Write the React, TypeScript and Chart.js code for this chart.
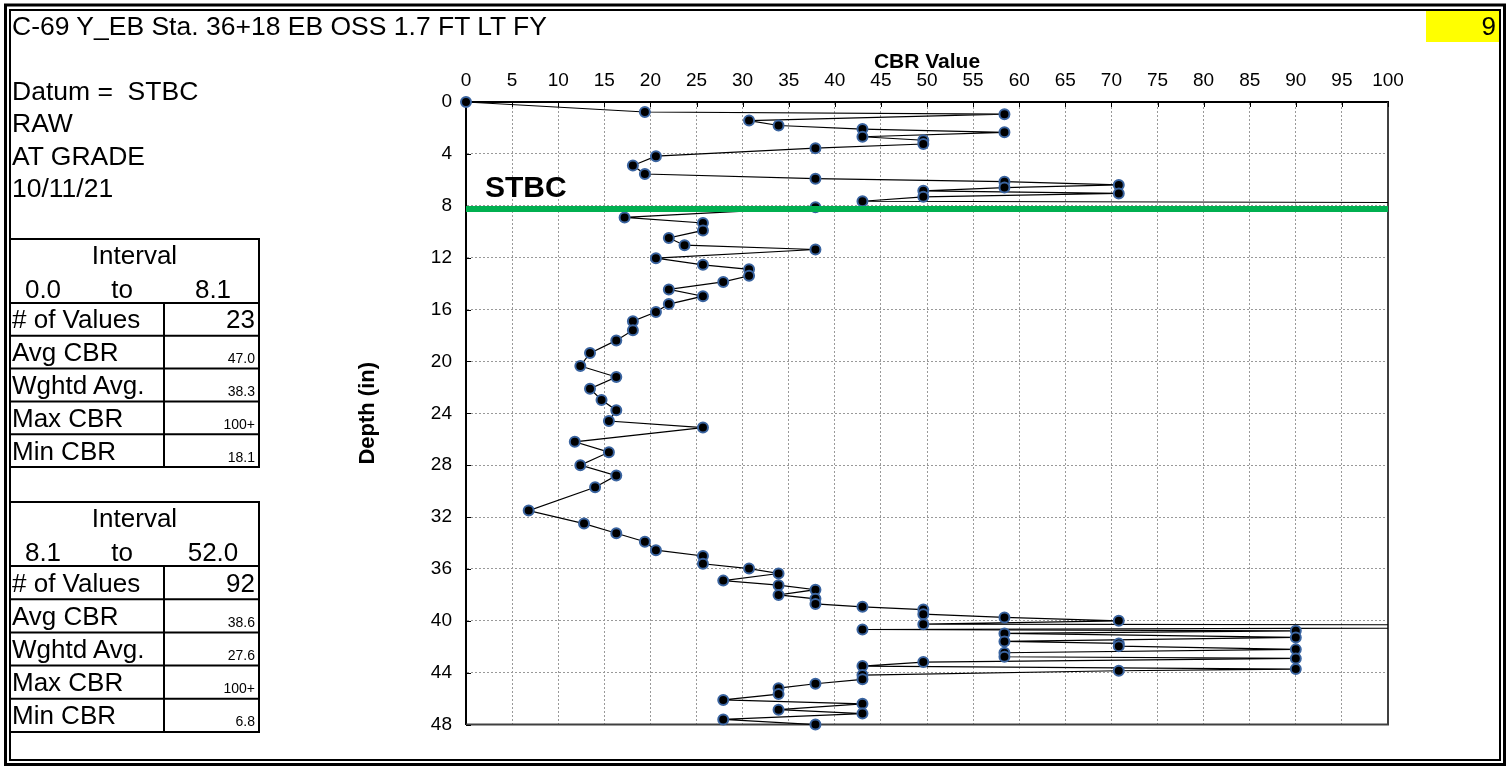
import React, { useEffect, useRef } from "react";
import { Chart, registerables } from "chart.js";

Chart.register(...registerables);

// ---- data ----
const depthIn = [
  0, 0.77, 0.94, 1.43, 1.81, 2.09, 2.34, 2.68, 2.95, 3.24, 3.56, 4.18, 4.9, 5.55, 5.91, 6.14, 6.39, 6.6, 6.85, 7.05,
  7.31, 7.65, 7.92, 8.12, 8.9, 9.33, 9.9, 10.48, 11.04, 11.37, 12.04, 12.55, 12.9, 13.4, 13.87, 14.45, 14.97, 15.58,
  16.19, 16.9, 17.6, 18.38, 19.36, 20.35, 21.2, 22.1, 22.97, 23.76, 24.6, 25.1, 26.2, 27.0, 28.0, 28.8, 29.7, 31.5,
  32.5, 33.25, 33.9, 34.55, 35.0, 35.6, 35.97, 36.35, 36.9, 37.25, 37.6, 38.0, 38.3, 38.7, 38.92, 39.13, 39.49, 39.74,
  40.0, 40.26, 40.38, 40.67, 40.77, 40.97, 41.28, 41.59, 41.74, 41.95, 42.2, 42.46, 42.77, 42.9, 43.18, 43.49, 43.72,
  43.85, 44.18, 44.51, 44.85, 45.19, 45.65, 46.1, 46.4, 46.85, 47.15, 47.6, 48.0,
];
const cbrValue = [
  0, 19.4, 58.4, 30.7, 33.9, 43.0, 58.4, 43.0, 49.6, 49.6, 37.9, 20.6, 18.1, 19.4, 37.9, 58.4, 70.8, 58.4, 49.6, 70.8,
  49.6, 43.0, 200, 37.9, 17.2, 25.7, 25.7, 22.0, 23.7, 37.9, 20.6, 25.7, 30.7, 30.7, 27.9, 22.0, 25.7, 22.0,
  20.6, 18.1, 18.1, 16.3, 13.45, 12.4, 16.3, 13.45, 14.7, 16.3, 15.5, 25.7, 11.8, 15.5, 12.4, 16.3, 14.0, 6.8,
  12.8, 16.3, 19.4, 20.6, 25.7, 25.7, 30.7, 33.9, 27.9, 33.9, 37.9, 33.9, 37.9, 37.9, 43.0, 49.6, 49.6, 58.4,
  70.8, 49.6, 200, 43.0, 90, 58.4, 90, 58.4, 70.8, 70.8, 90, 58.4, 58.4, 90, 49.6, 43.0, 90,
  70.8, 43.0, 43.0, 37.9, 33.9, 33.9, 27.9, 43.0, 33.9, 43.0, 27.9, 37.9,
];
const stbcDepth = 8.25;
const xMin = 0;
const xMax = 100;
const xStep = 5;
const yMin = 0;
const yMax = 48;
const yStep = 4;

const titleText = "C-69 Y_EB Sta. 36+18 EB OSS 1.7 FT LT FY";
const pageNumber = "9";
const infoLines = ["Datum =  STBC", "RAW", "AT GRADE", "10/11/21"];
const statLabels = ["# of Values", "Avg CBR", "Wghtd Avg.", "Max CBR", "Min CBR"];
const table1Range = ["0.0", "to", "8.1"];
const table1Values = ["23", "47.0", "38.3", "100+", "18.1"];
const table2Range = ["8.1", "to", "52.0"];
const table2Values = ["92", "38.6", "27.6", "100+", "6.8"];

const FONT = "Arial, 'Liberation Sans', sans-serif";

const framePlugin = {
  id: "frame",
  beforeDatasetsDraw(chart: any) {
    const { ctx, chartArea, scales } = chart;
    const { left, top, right, bottom } = chartArea;
    ctx.save();
    ctx.strokeStyle = "#404040";
    ctx.lineWidth = 2;
    ctx.beginPath();
    ctx.moveTo(right, top);
    ctx.lineTo(right, bottom);
    ctx.lineTo(left, bottom);
    ctx.stroke();
    ctx.strokeStyle = "#000";
    ctx.lineWidth = 1;
    ctx.beginPath();
    scales.x.ticks.forEach((t: any) => {
      const px = Math.round(scales.x.getPixelForValue(t.value)) + 0.5;
      ctx.moveTo(px, top);
      ctx.lineTo(px, top + 5);
    });
    scales.y.ticks.forEach((t: any) => {
      const py = Math.round(scales.y.getPixelForValue(t.value)) + 0.5;
      ctx.moveTo(left, py);
      ctx.lineTo(left + 5, py);
    });
    ctx.stroke();
    ctx.restore();
  },
};

function CbrChart() {
  const ref = useRef<HTMLCanvasElement | null>(null);
  useEffect(() => {
    if (!ref.current) return;
    Chart.defaults.font.family = FONT;
    const points = depthIn.map((d, i) => ({ x: cbrValue[i], y: d }));
    const chart = new Chart(ref.current, {
      type: "scatter",
      data: {
        datasets: [
          {
            label: "STBC",
            data: [
              { x: xMin, y: stbcDepth },
              { x: xMax, y: stbcDepth },
            ],
            showLine: true,
            borderColor: "#00B050",
            backgroundColor: "#00B050",
            borderWidth: 6,
            pointRadius: 0,
          },
          {
            label: "CBR",
            data: points,
            showLine: true,
            borderColor: "#000000",
            borderWidth: 1.2,
            pointRadius: 5,
            pointBorderWidth: 2,
            pointBackgroundColor: "#000000",
            pointBorderColor: "#3A64A0",
            clip: { left: 10, top: 10, right: 0, bottom: 10 },
          },
        ],
      },
      options: {
        responsive: false,
        animation: false,
        devicePixelRatio: 1,
        layout: { padding: { left: 0, top: 0, right: 42, bottom: 21 } },
        plugins: { legend: { display: false }, tooltip: { enabled: false } },
        scales: {
          x: {
            type: "linear",
            position: "top",
            min: xMin,
            max: xMax,
            ticks: { stepSize: xStep, color: "#000", font: { size: 19 }, padding: 10, maxRotation: 0, autoSkip: false },
            grid: { color: "#999999", lineWidth: 1, drawTicks: false },
            border: { display: true, color: "#000", width: 2, dash: [2, 2] },
            title: {
              display: true,
              text: "CBR Value",
              color: "#000",
              font: { size: 21, weight: "bold" },
              padding: { top: 10, bottom: 0 },
            },
            afterFit: (s: any) => {
              s.height = 62;
            },
          },
          y: {
            type: "linear",
            reverse: true,
            min: yMin,
            max: yMax,
            ticks: { stepSize: yStep, color: "#000", font: { size: 19 }, padding: 14, autoSkip: false },
            grid: { color: "#999999", lineWidth: 1, drawTicks: false },
            border: { display: true, color: "#000", width: 2, dash: [2, 2] },
            title: {
              display: true,
              text: "Depth (in)",
              color: "#000",
              font: { size: 22, weight: "bold" },
              padding: { top: 25, bottom: 0 },
            },
            afterFit: (s: any) => {
              s.width = 136;
            },
          },
        },
      },
      plugins: [framePlugin],
    } as any);
    return () => chart.destroy();
  }, []);
  return (
    <canvas
      ref={ref}
      width={1100}
      height={710}
      style={{ position: "absolute", left: 330, top: 40, width: 1100, height: 710 }}
    />
  );
}

function StatTable({
  top,
  headerH,
  rowH,
  range,
  values,
}: {
  top: number;
  headerH: number;
  rowH: number;
  range: string[];
  values: string[];
}) {
  const left = 10;
  const right = 259;
  const divider = 164;
  const rowsTop = top + headerH;
  const bottom = rowsTop + rowH * statLabels.length;
  const lines: any[] = [];
  for (let i = 0; i < statLabels.length; i++) {
    const y = rowsTop + i * rowH;
    lines.push(<line key={"h" + i} x1={left} x2={right} y1={y} y2={y} stroke="#000" strokeWidth={2} />);
  }
  const base = (i: number) => rowsTop + i * rowH + rowH / 2 + 9;
  return (
    <g fontFamily={FONT} fill="#000">
      <rect x={left} y={top} width={right - left} height={bottom - top} fill="none" stroke="#000" strokeWidth={2} />
      {lines}
      <line x1={divider} x2={divider} y1={rowsTop} y2={bottom} stroke="#000" strokeWidth={2} />
      <text x={(left + right) / 2} y={top + 25} fontSize={26} textAnchor="middle">
        Interval
      </text>
      <text x={43} y={headerH + top - 5} fontSize={26} textAnchor="middle">
        {range[0]}
      </text>
      <text x={122} y={headerH + top - 5} fontSize={26} textAnchor="middle">
        {range[1]}
      </text>
      <text x={213} y={headerH + top - 5} fontSize={26} textAnchor="middle">
        {range[2]}
      </text>
      {statLabels.map((lab, i) => (
        <text key={"l" + i} x={12} y={base(i)} fontSize={26}>
          {lab}
        </text>
      ))}
      {values.map((v, i) => (
        <text key={"v" + i} x={255} y={base(i) + (i === 0 ? 0 : 2)} fontSize={i === 0 ? 26 : 14} textAnchor="end">
          {v}
        </text>
      ))}
    </g>
  );
}

export default function App() {
  useEffect(() => {
    document.body.style.margin = "0";
  }, []);
  return (
    <div
      style={{
        position: "absolute",
        left: 0,
        top: 0,
        width: 1509,
        height: 766,
        overflow: "hidden",
        background: "#fff",
      }}
    >
      <CbrChart />
      <svg
        width={1509}
        height={766}
        style={{ position: "absolute", left: 0, top: 0, pointerEvents: "none" }}
      >
        <rect x={1426} y={11} width={73} height={31} fill="#FFFF00" />
        <rect x={5.5} y={5} width={1499} height={759.5} fill="none" stroke="#000" strokeWidth={3} />
        <rect x={10} y={10} width={1490} height={750} fill="none" stroke="#000" strokeWidth={2} />
        <g fontFamily={FONT} fill="#000">
          <text x={12} y={35} fontSize={26.5}>
            {titleText}
          </text>
          <text x={1496} y={35} fontSize={26} textAnchor="end">
            {pageNumber}
          </text>
          {infoLines.map((t, i) => (
            <text key={i} x={12} y={100 + i * 32.3} fontSize={26.5} style={{ whiteSpace: "pre" }}>
              {t}
            </text>
          ))}
          <text x={485} y={197} fontSize={30} fontWeight="bold">
            STBC
          </text>
        </g>
        <StatTable top={239} headerH={64} rowH={32.8} range={table1Range} values={table1Values} />
        <StatTable top={502} headerH={64} rowH={33.2} range={table2Range} values={table2Values} />
      </svg>
    </div>
  );
}
